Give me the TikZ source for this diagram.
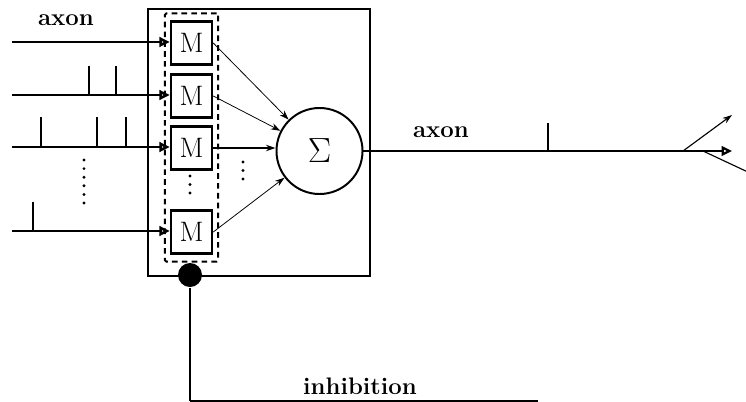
\documentclass[tikz,border=0pt]{standalone}
\usetikzlibrary{arrows.meta, positioning, fit}
\tikzset{
  every picture/.style={font=\fontsize{17}{20}\selectfont, line width=1.9pt},
  mbox/.style={draw, line width=1.9pt, minimum width=1.02cm, minimum height=1.07cm, inner sep=0pt, font=\fontsize{20}{22}\selectfont},
  sumnode/.style={draw, circle, line width=1.4pt, minimum size=2.15cm, inner sep=0pt, font=\fontsize{25}{28}\selectfont},
  inarrow/.style={-{Triangle[open, length=2.6mm, width=2.4mm]}, line width=1.9pt},
  thinarrow/.style={-{Stealth[length=2.4mm, width=1.6mm]}, line width=0.55pt},
  spike/.style={line width=1.9pt},
  label/.style={font=\fontsize{17}{20}\selectfont\bfseries},
  dot/.style={circle, fill, inner sep=0pt, minimum size=0.08cm},
}
\begin{document}
\begin{tikzpicture}[x=0.025cm, y=-0.025cm]
  \useasboundingbox (0,0) rectangle (746,402);
  % cell body
  \draw (148,9) rectangle (370,276);
  \node[mbox] (m1) at (191.5,43) {M};
  \node[mbox] (m2) at (191.5,96) {M};
  \node[mbox] (m3) at (191.5,148) {M};
  \node[mbox] (m4) at (191.5,232) {M};
  \node[draw, dash pattern=on 4pt off 3pt, line width=1.4pt, rounded corners=1pt, inner xsep=0.12cm, inner ysep=0.17cm, fit=(m1)(m4)] (syn) {};
  \node[sumnode] (sum) at (319.5,151) {$\Sigma$};
  % incoming axons
  \foreach \i/\y in {1/42,2/95,3/147,4/231} {
    \coordinate (in\i) at (12,\y);
    \draw[inarrow] (in\i) -- (m\i.west |- in\i);
  }
  \node[label] (axin) at (66,20) {axon};
  \foreach \x in {89,116} \draw[spike] (\x,95) -- (\x,66);
  \foreach \x in {41,97,126} \draw[spike] (\x,147) -- (\x,117);
  \draw[spike] (33,231) -- (33,202);
  \foreach \y in {160,168.6,...,204} \node[dot] at (84,\y) {};
  \foreach \y in {176,184.5,193} \node[dot] at (190,\y) {};
  \foreach \y in {162,170.5,179} \node[dot] at (243,\y) {};
  % synapses to soma
  \draw[thinarrow] (m1.east) -- (sum);
  \draw[thinarrow] (m2.east) -- (sum);
  \draw[thinarrow, line width=1.2pt] (m3.east) -- (m3.east -| sum.west);
  \draw[thinarrow] (m4.east) -- (sum);
  % outgoing axon
  \coordinate (out) at (732,151);
  \draw[inarrow, line width=1.6pt] (sum.east) -- (out);
  \node[label] (axout) at (441,132) {axon};
  \draw[spike] (548,151) -- (548,123);
  \coordinate (br1) at (683,151);
  \coordinate (br1end) at (732,115);
  \draw[thinarrow, line width=0.8pt] (br1) -- (br1end);
  \coordinate (br2) at (703,151);
  \coordinate (br2end) at (750,173);
  \draw[line width=0.8pt] (br2) -- (br2end);
  % inhibition
  \node[circle, fill, inner sep=0pt, minimum size=0.6cm] (inh) at (190,275) {};
  \coordinate (inhc) at (190,401);
  \coordinate (inhend) at (538,401);
  \draw[line width=1.5pt] (inh) -- (inhc);
  \draw[line width=1pt] (inhc) -- (inhend);
  \node[label] (inhl) at (360,386) {inhibition};
\end{tikzpicture}
\end{document}
